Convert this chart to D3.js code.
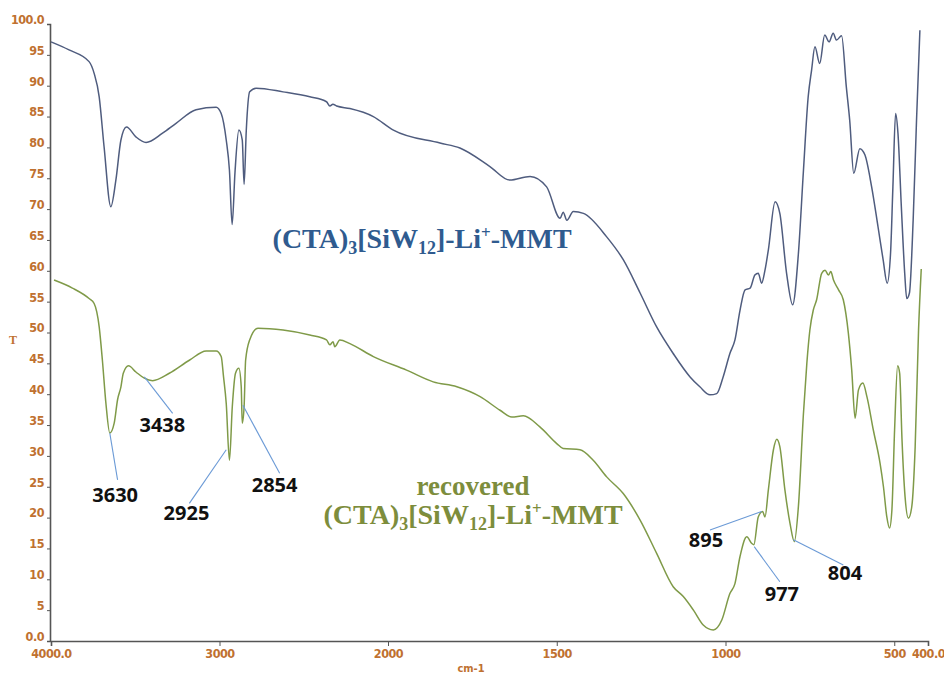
<!DOCTYPE html>
<html><head><meta charset="utf-8">
<script src="https://cdnjs.cloudflare.com/ajax/libs/d3/7.8.5/d3.min.js"></script>
<style>
html,body{margin:0;padding:0;background:#fff;}
svg{display:block;}
</style></head>
<body><svg id="c" width="944" height="677"></svg>
<script>
// ---- data ----
const topWave = [4000,3893,3774,3744,3714,3685,3645,3615,3585,3552,3496,3436,3338,3258,3139,3020,2990,2960,2941,2925,2908,2885,2865,2854,2841,2821,2782,2623,2464,2365,2345,2327,2305,2226,2087,1984,1846,1787,1698,1639,1579,1530,1490,1481,1470,1451,1421,1352,1303,1253,1204,1155,1105,1076,1046,1026,1007,987,972,957,942,927,913,903,893,883,873,853,839,819,801,784,769,755,745,735,721,706,693,681,671,656,642,632,620,602,587,567,548,533,521,511,504,496,489,479,469,463,455,444,434,424];
const topT = [97.1,95.8,93.9,92,88.2,80.1,70.4,74.7,81.2,83.3,81.7,80.8,82.3,83.9,86.1,86.5,85.5,81.2,76.3,67.5,76,82.8,81.2,74,82.8,89,89.6,89.0,88.2,87.4,86.7,87.0,86.7,86.3,85,82.8,80.7,79.9,76.9,74.7,75.3,73.6,68.5,69.5,68.2,69.6,69.3,65.5,61.8,56.4,50.9,46.6,42.8,41.2,39.9,40.1,42.8,46.6,48.8,53.6,56.9,57.2,59.3,59.6,58,60.1,63.4,71.2,69.3,59.6,54.5,62.8,76.3,88.2,92.5,96.3,93.6,98.2,97.1,98.5,97.4,98.1,89.8,84.4,75.8,79.8,78.8,73.6,67.1,61.8,58,62.8,73.6,85.5,82.3,70.4,59.6,55.5,56.4,68.2,84.4,99];

const recWave = [3982,3873,3774,3744,3714,3695,3674,3651,3625,3605,3585,3571,3540,3496,3446,3397,3298,3179,3079,3020,2990,2976,2960,2941,2924,2905,2885,2871,2865,2854,2845,2821,2772,2623,2464,2365,2345,2326,2316,2286,2226,2087,1945,1866,1796,1727,1668,1633,1599,1550,1500,1481,1431,1392,1352,1303,1253,1204,1155,1125,1095,1066,1036,1011,987,972,957,937,922,916,903,890,883,873,858,848,839,824,809,796,784,769,759,750,740,730,715,705,695,688,680,665,651,636,626,616,606,593,581,562,542,532,522,514,507,499,490,484,477,468,458,448,438,428,420];
const recT = [58.5,57.2,55.5,54.7,50.9,45.5,38.5,33.7,35.3,39.1,41.2,43.4,44.6,43.6,42.6,42.2,43.4,45.5,47.0,47.0,46.1,42.8,38.5,29.3,38,43.4,44.2,41.2,35.3,38,45.5,48.8,50.7,50.4,49.6,48.8,48.0,48.5,47.7,48.8,48.2,46.1,43.9,42.0,41.2,39.6,37.4,36.3,36.5,34.7,32.0,31.2,31.0,29.3,26.6,23.9,19.6,14.2,8.8,7.2,5.0,2.6,1.8,3.4,7.7,9.3,13.7,16.9,15.8,15.6,20.1,21.0,20.1,24.5,31.0,32.7,31.5,24.5,19.1,16.1,21.8,36.9,45,50.4,53.6,55.3,59.6,60.1,59.3,59.9,58.5,56.9,55.3,49.9,43.9,36.1,40.7,41.8,39.6,34.2,28.8,25.0,20.1,18.3,21.2,34.2,44.6,43.4,32.6,23.4,19.9,21.8,31.5,50.4,60.3];

const xTickValues = [4000,3000,2000,1500,1000,500,400];
const xTickLabels = ["4000.0","3000","2000","1500","1000","500","400.0"];
const yTickValues = [0,5,10,15,20,25,30,35,40,45,50,55,60,65,70,75,80,85,90,95,100];
const yTickLabels = ["0.0","5","10","15","20","25","30","35","40","45","50","55","60","65","70","75","80","85","90","95","100.0"];

// peak annotations: text, line start (wave,T), line end (wave,T), text anchor (wave,T)
const annText  = ["3630","3438","2925","2854","895","977","804"];
const annFromW = [3651,3446,2960,2861,893,915,799];
const annFromT = [33.7,42.8,31.0,38.2,21.0,15.3,16.4];
const annToW   = [3605,3278,3179,2643,1046,839,651];
const annToT   = [26.1,36.9,22.3,27.2,18.0,9.6,12.3];
const annTxtW  = [3619,3339,3196,2673,1058,833,646];
const annTxtT  = [22.5,33.9,19.6,24.1,15.2,6.5,9.9];

// ---- chart ----
const svg = d3.select("#c");
const x = d3.scaleLinear().domain([4000,2000,400]).range([51,388,928]);
const y = d3.scaleLinear().domain([0,100]).range([641,24]);
const tickColor = "#bf7130";
const tickFont = "'Liberation Sans Narrow','DejaVu Sans Condensed',sans-serif";

// axes
const yAxis = d3.axisLeft(y).tickValues(yTickValues).tickSize(3).tickPadding(3)
  .tickFormat((d,i)=>yTickLabels[i]);
const gy = svg.append("g").attr("transform","translate(50,0)").call(yAxis);
gy.select(".domain").attr("stroke","#555").attr("stroke-width",1.6);
gy.selectAll(".tick line").attr("stroke","#555");
gy.selectAll(".tick text").attr("fill",tickColor).attr("font-family",tickFont)
  .attr("font-size",12.5).attr("font-weight","bold").attr("dy","-0.05em").attr("letter-spacing","-0.5");

const xAxis = d3.axisBottom(x).tickValues(xTickValues).tickSize(5).tickPadding(3)
  .tickFormat((d,i)=>xTickLabels[i]);
const gx = svg.append("g").attr("transform","translate(0,641)").call(xAxis);
gx.select(".domain").attr("stroke","#555").attr("stroke-width",1.6);
gx.selectAll(".tick line").attr("stroke","#555");
gx.selectAll(".tick text").attr("fill",tickColor).attr("font-family",tickFont)
  .attr("font-size",12.5).attr("font-weight","bold").attr("letter-spacing","-0.5");

svg.append("text").attr("x",13).attr("y",344).attr("text-anchor","middle")
  .attr("fill",tickColor).attr("font-family","'Liberation Serif',serif").attr("font-weight","bold")
  .attr("font-size",12).text("T");
svg.append("text").attr("x",471).attr("y",672).attr("text-anchor","middle")
  .attr("fill",tickColor).attr("font-family",tickFont).attr("font-weight","bold")
  .attr("font-size",11).text("cm-1");

// curves
const line = d3.line().x(d=>x(d[0])).y(d=>y(d[1])).curve(d3.curveMonotoneX);
const topData = topWave.map((w,i)=>[w,topT[i]]);
const recData = recWave.map((w,i)=>[w,recT[i]]);
svg.append("path").datum(topData).attr("d",line).attr("fill","none")
  .attr("stroke","#4f5c7e").attr("stroke-width",1.5);
svg.append("path").datum(recData).attr("d",line).attr("fill","none")
  .attr("stroke","#7f9a48").attr("stroke-width",1.5);

// annotations
const ann = svg.append("g");
annText.forEach((t,i)=>{
  ann.append("line").attr("x1",x(annFromW[i])).attr("y1",y(annFromT[i]))
    .attr("x2",x(annToW[i])).attr("y2",y(annToT[i]))
    .attr("stroke","#6b9ad6").attr("stroke-width",1.1);
  ann.append("text").attr("x",x(annTxtW[i])).attr("y",y(annTxtT[i]))
    .attr("text-anchor","middle").attr("font-family","'Open Sans',sans-serif")
    .attr("font-weight","bold").attr("font-size",20).attr("fill","#111").text(t);
});

// compound labels
function compound(g, cx, cy, color){
  const t = g.append("text").attr("x",cx).attr("y",cy).attr("text-anchor","middle")
    .attr("font-family","'Liberation Serif','Times New Roman',serif").attr("font-weight","bold")
    .attr("font-size",28).attr("fill",color);
  t.append("tspan").text("(CTA)");
  t.append("tspan").attr("font-size",18).attr("dy",6).text("3");
  t.append("tspan").attr("dy",-6).text("[SiW");
  t.append("tspan").attr("font-size",18).attr("dy",6).text("12");
  t.append("tspan").attr("dy",-6).text("]-Li");
  t.append("tspan").attr("font-size",17).attr("dy",-10).text("+");
  t.append("tspan").attr("dy",10).text("-MMT");
}
compound(svg, x(1899), y(63.7), "#2f5b8f");
svg.append("text").attr("x",x(1748)).attr("y",y(23.7)).attr("text-anchor","middle")
  .attr("font-family","'Liberation Serif','Times New Roman',serif").attr("font-weight","bold")
  .attr("font-size",27).attr("fill","#7d8d3c").text("recovered");
compound(svg, x(1748), y(18.9), "#7d8d3c");
</script></body></html>
